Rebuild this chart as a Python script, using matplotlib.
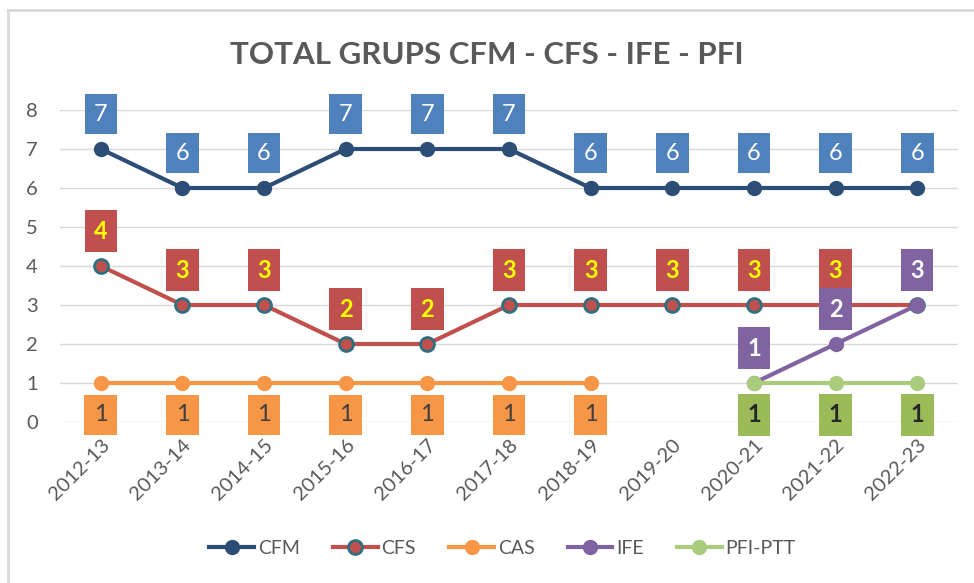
import matplotlib
matplotlib.use("Agg")
import matplotlib.pyplot as plt
from matplotlib.lines import Line2D
import numpy as np

years = ["2012-13", "2013-14", "2014-15", "2015-16", "2016-17", "2017-18",
         "2018-19", "2019-20", "2020-21", "2021-22", "2022-23"]
cfm = [7, 6, 6, 7, 7, 7, 6, 6, 6, 6, 6]
cfs = [4, 3, 3, 2, 2, 3, 3, 3, 3, 3, 3]
cas = [1, 1, 1, 1, 1, 1, 1, None, None, None, None]
ife = [None, None, None, None, None, None, None, None, 1, 2, 3]
pfi = [None, None, None, None, None, None, None, None, 1, 1, 1]

plt.rcParams['font.family'] = ['Lato', 'DejaVu Sans']

fig = plt.figure(figsize=(9.74, 5.83), dpi=100)
ax = fig.add_axes([60/974, 1-422/583, (958-60)/974, (422-110)/583])

x = np.arange(len(years))

def arr(v):
    return np.array([np.nan if a is None else a for a in v], dtype=float)

series = [
    ("CFM", cfm, "#2C4D75", "#2C4D75", "#2C4D75", "#4F81BD", "white", "normal", 1),
    ("CFS", cfs, "#C0504D", "#C0504D", "#2E6F80", "#C0504D", "#FFFF00", "bold", 1),
    ("CAS", cas, "#F79646", "#F79646", "#F79646", "#F79646", "#404040", "normal", -1),
    ("IFE", ife, "#8064A2", "#8064A2", "#8064A2", "#8064A2", "white", "bold", 1),
    ("PFI-PTT", pfi, "#A9CD7C", "#A9CD7C", "#A9CD7C", "#9BBB59", "#262626", "bold", -1),
]

handles = []
for name, vals, lc, mfc, mec, boxc, tc, tw, pos in series:
    y = arr(vals)
    ax.plot(x, y, color=lc, lw=3, marker='o', ms=10, mfc=mfc, mec=mec,
            mew=2 if name == "CFS" else 1, zorder=3, solid_capstyle='round')
    handles.append(Line2D([0], [0], color=lc, lw=3, marker='o', ms=10, mfc=mfc,
                          mec=mec, mew=2 if name == "CFS" else 1))
    for xi, yi in zip(x, y):
        if np.isnan(yi):
            continue
        off = 25 if pos > 0 else -23
        ax.annotate(f"{int(yi)}", (xi, yi), xytext=(0, off), textcoords='offset points',
                    ha='center', va='center', fontsize=17, color=tc, fontweight=tw,
                    bbox=dict(boxstyle='square,pad=0.4', fc=boxc, ec='none'),
                    zorder=5)

ax.set_xlim(-0.5, len(years) - 0.5)
ax.set_ylim(0, 8)
ax.set_yticks(range(0, 9))
ax.set_xticks(x)
ax.set_xticklabels(years, rotation=45, ha='right', rotation_mode='anchor')
ax.tick_params(axis='both', length=0, labelsize=14.5, colors='#595959')
ax.tick_params(axis='y', pad=16)
ax.tick_params(axis='x', pad=10)
ax.grid(axis='y', color='#D9D9D9', lw=1)
ax.set_axisbelow(True)
for s in ax.spines.values():
    s.set_visible(False)

fig.text(0.5, 1-55/583, "TOTAL GRUPS CFM - CFS - IFE - PFI", ha='center', va='center',
         fontsize=22.5, fontweight='bold', color='#595959')

fig.legend(handles, [s[0] for s in series], loc='center', bbox_to_anchor=(0.516, 1-548/583),
           ncol=5, frameon=False, fontsize=14, labelcolor='#595959', handlelength=2.3,
           columnspacing=1.7, handletextpad=0.2)

# outer border (top and left visible)
fig.add_artist(Line2D([7.5/974, 1], [1-10/583, 1-10/583], color='#D9D9D9', lw=2,
                      transform=fig.transFigure))
fig.add_artist(Line2D([7.5/974, 7.5/974], [0, 1-10/583], color='#D9D9D9', lw=2,
                      transform=fig.transFigure))

fig.savefig("out.png", dpi=100)
